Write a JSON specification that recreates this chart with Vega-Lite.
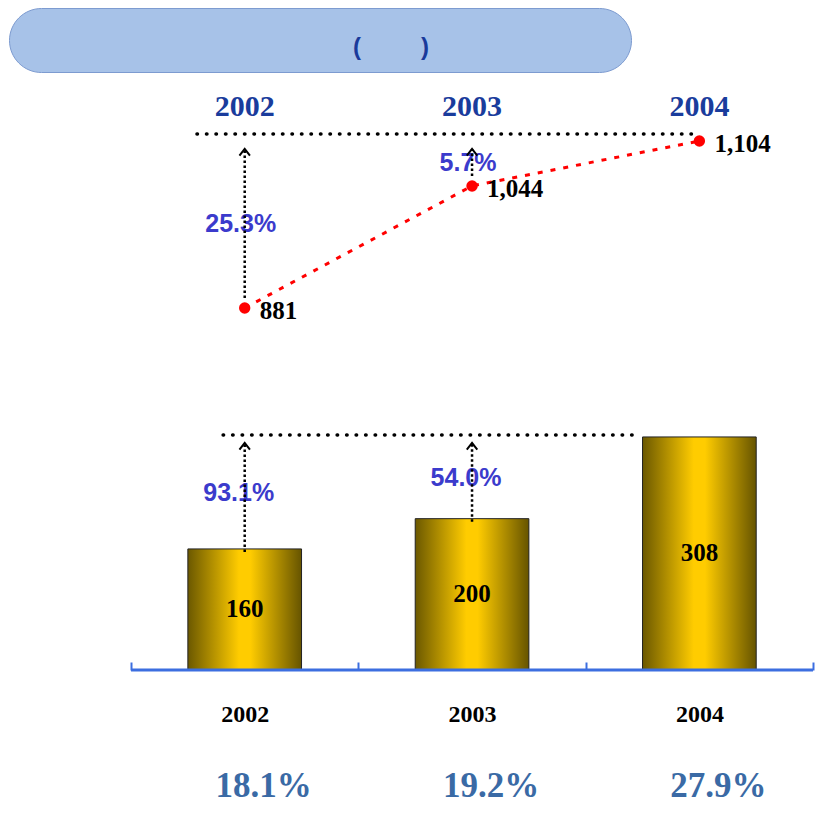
{
  "$schema": "https://vega.github.io/schema/vega-lite/v6.json",
  "padding": {"left": 8, "top": 7, "right": 0, "bottom": 0},
  "spacing": 0,
  "config": {"view": {"stroke": null}},
  "datasets": {
    "lineVals": [
      {"year": "2002", "v": 881},
      {"year": "2003", "v": 1044},
      {"year": "2004", "v": 1104}
    ],
    "lineGrowth": [
      {"year": "2002", "from": 881, "to": 1104, "g": "25.3%"},
      {"year": "2003", "from": 1044, "to": 1104, "g": "5.7%"}
    ],
    "barVals": [
      {"year": "2002", "v": 160},
      {"year": "2003", "v": 200},
      {"year": "2004", "v": 308}
    ],
    "barGrowth": [
      {"year": "2002", "from": 160, "to": 308, "g": "93.1%"},
      {"year": "2003", "from": 200, "to": 308, "g": "54.0%"}
    ],
    "shares": [
      {"year": "2002", "s": "18.1%"},
      {"year": "2003", "s": "19.2%"},
      {"year": "2004", "s": "27.9%"}
    ]
  },
  "vconcat": [
    {
      "width": 622,
      "height": 64,
      "view": {"fill": "#a7c2e8", "stroke": "#7d9bd0", "strokeWidth": 1, "cornerRadius": 32},
      "data": {"values": [{"t": "(\u00a0\u00a0\u00a0\u00a0\u00a0\u00a0\u00a0\u00a0\u00a0)"}]},
      "mark": {"type": "text", "font": "Liberation Sans", "fontWeight": "bold", "fontSize": 24, "color": "#1a3a9a", "dx": 71, "dy": 8, "baseline": "middle", "align": "center"},
      "encoding": {"text": {"field": "t"}}
    },
    {
      "width": 821,
      "height": 597,
      "resolve": {"scale": {"y": "independent"}, "axis": {"x": "independent"}},
      "layer": [
        {
          "resolve": {"axis": {"x": "independent"}},
          "layer": [
            {
              "data": {"name": "lineGrowth"},
              "transform": [{"calculate": "(datum.from + datum.to) / 2", "as": "mid"}],
              "mark": {"type": "text", "font": "Liberation Sans", "fontWeight": "bold", "fontSize": 25, "color": "#3b3bcc", "dx": -4, "baseline": "middle"},
              "encoding": {
                "x": {"field": "year", "type": "nominal", "scale": {"type": "band", "domain": ["2002", "2003", "2004"], "paddingInner": 0, "paddingOuter": 0.3057, "align": 0.878},
                  "axis": {"orient": "top", "domain": false, "ticks": false, "offset": -33, "labelPadding": 0, "labelBaseline": "middle", "labelFont": "Liberation Serif", "labelFontWeight": "bold", "labelFontSize": 30, "labelColor": "#1a3c9c", "title": null, "labelAngle": 0}},
                "y": {"field": "mid", "type": "quantitative", "scale": {"domain": [397.6, 1194.8], "zero": false, "nice": false}, "axis": null},
                "text": {"field": "g"}
              }
            },
            {
              "data": {"name": "lineVals"},
              "mark": {"type": "line", "color": "#ff0000", "strokeWidth": 3, "strokeDash": [5, 8]},
              "encoding": {
                "x": {"field": "year", "type": "nominal", "axis": null},
                "y": {"field": "v", "type": "quantitative", "scale": {"domain": [397.6, 1194.8], "zero": false, "nice": false}, "axis": null}
              }
            },
            {
              "data": {"name": "lineVals"},
              "mark": {"type": "point", "filled": true, "color": "#ff0000", "opacity": 1, "size": 130},
              "encoding": {
                "x": {"field": "year", "type": "nominal", "axis": null},
                "y": {"field": "v", "type": "quantitative", "scale": {"domain": [397.6, 1194.8], "zero": false, "nice": false}, "axis": null}
              }
            },
            {
              "data": {"name": "lineVals"},
              "mark": {"type": "text", "font": "Liberation Serif", "fontWeight": "bold", "fontSize": 25, "color": "#000000", "align": "left", "baseline": "middle", "dx": 15, "dy": 3},
              "encoding": {
                "x": {"field": "year", "type": "nominal", "axis": null},
                "y": {"field": "v", "type": "quantitative", "scale": {"domain": [397.6, 1194.8], "zero": false, "nice": false}, "axis": null},
                "text": {"field": "v", "type": "quantitative", "format": ","}
              }
            },
            {
              "data": {"values": [{"s": "2002", "e": "2004", "lvl": 1104}]},
              "mark": {"type": "rule", "color": "#000000", "strokeWidth": 3.5, "strokeDash": [0.5, 9], "strokeCap": "round", "yOffset": -7},
              "encoding": {
                "x": {"field": "s", "type": "nominal", "bandPosition": 0.29, "axis": null},
                "x2": {"field": "e", "bandPosition": 0.47},
                "y": {"field": "lvl", "type": "quantitative", "scale": {"domain": [397.6, 1194.8], "zero": false, "nice": false}, "axis": null}
              }
            },
            {
              "data": {"name": "lineGrowth"},
              "mark": {"type": "rule", "color": "#000000", "strokeWidth": 2.5, "strokeDash": [2.5, 2.5], "yOffset": -10, "y2Offset": 8},
              "encoding": {
                "x": {"field": "year", "type": "nominal", "axis": null},
                "y": {"field": "from", "type": "quantitative", "scale": {"domain": [397.6, 1194.8], "zero": false, "nice": false}, "axis": null},
                "y2": {"field": "to"}
              }
            },
            {
              "data": {"name": "lineGrowth"},
              "mark": {"type": "point", "shape": "M-1,0.7L0,-0.6L1,0.7", "filled": false, "color": "#000000", "strokeWidth": 2, "size": 110, "opacity": 1, "yOffset": 11},
              "encoding": {
                "x": {"field": "year", "type": "nominal", "axis": null},
                "y": {"field": "to", "type": "quantitative", "scale": {"domain": [397.6, 1194.8], "zero": false, "nice": false}, "axis": null}
              }
            }
          ]
        },
        {
          "resolve": {"axis": {"x": "independent"}},
          "layer": [
            {
              "data": {"name": "barVals"},
              "mark": {"type": "bar", "width": {"band": 0.5}, "stroke": "#222222", "strokeWidth": 1,
                "color": {"gradient": "linear", "x1": 0, "x2": 1, "y1": 0, "y2": 0, "stops": [
                  {"offset": 0, "color": "#6b5800"},
                  {"offset": 0.45, "color": "#ffcc00"},
                  {"offset": 0.55, "color": "#ffcc00"},
                  {"offset": 1, "color": "#665400"}]}},
              "encoding": {
                "x": {"field": "year", "type": "nominal", "scale": {"type": "band", "domain": ["2002", "2003", "2004"], "paddingInner": 0, "paddingOuter": 0.3057, "align": 0.878},
                  "axis": {"orient": "bottom", "domain": false, "tickBand": "extent", "tickSize": -8, "tickColor": "#3c6ee0", "tickWidth": 2, "labelFont": "Liberation Serif", "labelFontWeight": "bold", "labelFontSize": 24, "labelColor": "#000000", "labelPadding": 52, "labelBaseline": "middle", "title": null, "labelAngle": 0}},
                "y": {"field": "v", "type": "quantitative", "scale": {"domain": [0, 789], "nice": false}, "axis": null}
              }
            },
            {
              "data": {"name": "barVals"},
              "transform": [{"calculate": "datum.v / 2", "as": "half"}],
              "mark": {"type": "text", "font": "Liberation Serif", "fontWeight": "bold", "fontSize": 25, "color": "#000000", "baseline": "middle"},
              "encoding": {
                "x": {"field": "year", "type": "nominal", "axis": null},
                "y": {"field": "half", "type": "quantitative", "scale": {"domain": [0, 789], "nice": false}, "axis": null},
                "text": {"field": "v"}
              }
            },
            {
              "data": {"values": [{"s": "2002", "e": "2004", "lvl": 308}]},
              "mark": {"type": "rule", "color": "#000000", "strokeWidth": 3.5, "strokeDash": [0.5, 9], "strokeCap": "round", "yOffset": -2},
              "encoding": {
                "x": {"field": "s", "type": "nominal", "bandPosition": 0.405, "axis": null},
                "x2": {"field": "e", "bandPosition": 0.242},
                "y": {"field": "lvl", "type": "quantitative", "scale": {"domain": [0, 789], "nice": false}, "axis": null}
              }
            },
            {
              "data": {"name": "barGrowth"},
              "transform": [{"calculate": "(datum.from + datum.to) / 2", "as": "mid"}],
              "mark": {"type": "text", "font": "Liberation Sans", "fontWeight": "bold", "fontSize": 25, "color": "#3b3bcc", "dx": -6, "baseline": "middle"},
              "encoding": {
                "x": {"field": "year", "type": "nominal", "axis": null},
                "y": {"field": "mid", "type": "quantitative", "scale": {"domain": [0, 789], "nice": false}, "axis": null},
                "text": {"field": "g"}
              }
            },
            {
              "data": {"name": "barGrowth"},
              "mark": {"type": "rule", "color": "#000000", "strokeWidth": 2.5, "strokeDash": [2.5, 2.5], "yOffset": 3, "y2Offset": 6},
              "encoding": {
                "x": {"field": "year", "type": "nominal", "axis": null},
                "y": {"field": "from", "type": "quantitative", "scale": {"domain": [0, 789], "nice": false}, "axis": null},
                "y2": {"field": "to"}
              }
            },
            {
              "data": {"name": "barGrowth"},
              "mark": {"type": "point", "shape": "M-1,0.7L0,-0.6L1,0.7", "filled": false, "color": "#000000", "strokeWidth": 2, "size": 110, "opacity": 1, "yOffset": 9},
              "encoding": {
                "x": {"field": "year", "type": "nominal", "axis": null},
                "y": {"field": "to", "type": "quantitative", "scale": {"domain": [0, 789], "nice": false}, "axis": null}
              }
            },
            {
              "data": {"values": [{"s": "2002", "e": "2004", "base": 0}]},
              "mark": {"type": "rule", "color": "#3c6ee0", "strokeWidth": 3},
              "encoding": {
                "x": {"field": "s", "type": "nominal", "bandPosition": 0, "axis": null},
                "x2": {"field": "e", "bandPosition": 1},
                "y": {"field": "base", "type": "quantitative", "scale": {"domain": [0, 789], "nice": false}, "axis": null}
              }
            }
          ]
        }
      ]
    },
    {
      "width": 821,
      "height": 90,
      "data": {"name": "shares"},
      "mark": {"type": "text", "font": "Liberation Serif", "fontWeight": "bold", "fontSize": 35, "color": "#3a6aa5", "dx": 19, "dy": 15, "baseline": "middle"},
      "encoding": {
        "x": {"field": "year", "type": "nominal", "scale": {"type": "band", "domain": ["2002", "2003", "2004"], "paddingInner": 0, "paddingOuter": 0.3057, "align": 0.878}, "axis": null},
        "text": {"field": "s"}
      }
    }
  ]
}
